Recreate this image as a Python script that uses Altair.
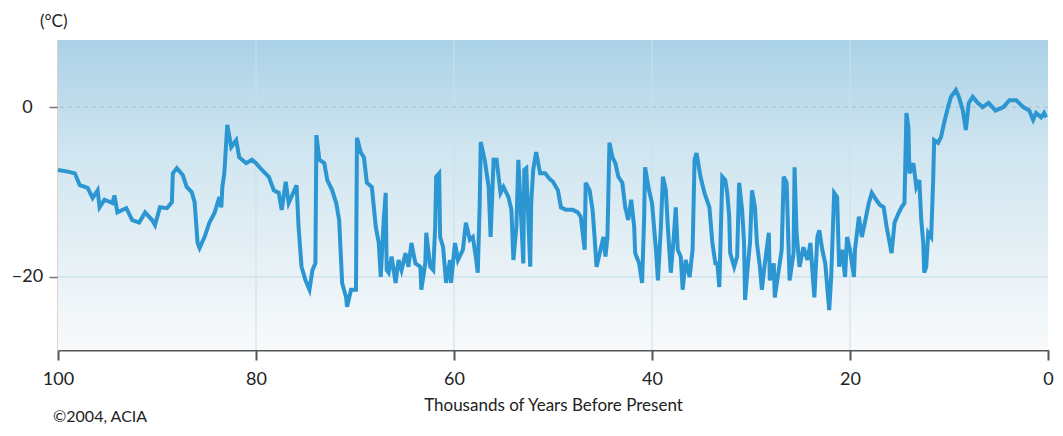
import altair as alt
import pandas as pd

kyr = [100.0, 99.0, 98.3, 97.8, 97.0, 96.5, 96.0, 95.8, 95.3, 94.5, 94.3, 94.0, 93.1, 92.5, 91.8, 91.2,
       90.5, 90.2, 89.7, 89.0, 88.5, 88.4, 88.0, 87.4, 87.0, 86.5, 86.2, 85.9, 85.7, 85.2, 84.7, 84.2,
       83.7, 83.5, 83.4, 83.2, 82.9, 82.5, 82.0, 81.7, 81.0, 80.4, 80.0, 79.4, 78.7, 78.2, 77.7, 77.4,
       77.0, 76.7, 75.9, 75.7, 75.4, 75.0, 74.6, 74.3, 74.0, 73.9, 73.6, 73.1, 72.8, 72.3, 71.9, 71.6,
       71.3, 70.9, 70.8, 70.4, 69.9, 69.8, 69.4, 69.1, 68.8, 68.3, 67.9, 67.6, 67.4, 67.1, 66.9, 66.8,
       66.6, 66.3, 65.9, 65.6, 65.3, 64.9, 64.6, 64.3, 63.9, 63.4, 63.3, 62.9, 62.8, 62.4, 62.1, 61.9,
       61.8, 61.5, 61.4, 61.1, 60.8, 60.4, 60.3, 59.9, 59.6, 59.1, 58.8, 58.4, 58.1, 57.8, 57.6, 57.4,
       57.3, 56.9, 56.5, 56.3, 56.0, 55.7, 55.3, 55.0, 54.5, 54.2, 54.0, 53.7, 53.5, 53.3, 53.0, 52.9,
       52.7, 52.3, 52.2, 52.0, 51.7, 51.3, 50.8, 50.3, 50.0, 49.5, 49.2, 48.7, 48.0, 47.5, 47.2, 46.8,
       46.7, 46.3, 46.0, 45.8, 45.6, 45.2, 44.9, 44.7, 44.5, 44.3, 44.0, 43.7, 43.4, 43.0, 42.7, 42.4,
       42.1, 41.8, 41.7, 41.3, 41.0, 40.8, 40.7, 40.3, 40.0, 39.6, 39.4, 39.1, 38.9, 38.6, 38.4, 38.1,
       37.8, 37.6, 37.4, 37.1, 36.9, 36.6, 36.2, 35.9, 35.7, 35.5, 35.1, 34.7, 34.2, 33.9, 33.6, 33.4,
       33.2, 32.9, 32.6, 32.4, 32.2, 32.1, 31.7, 31.4, 31.2, 30.9, 30.7, 30.6, 30.3, 30.1, 29.9, 29.6,
       29.4, 29.1, 28.9, 28.6, 28.2, 28.1, 27.7, 27.6, 27.2, 26.9, 26.7, 26.4, 26.2, 26.1, 25.7, 25.6,
       25.4, 25.1, 24.7, 24.3, 24.0, 23.6, 23.3, 23.1, 22.8, 22.5, 22.1, 21.9, 21.6, 21.3, 21.1, 20.8,
       20.5, 20.3, 20.0, 19.6, 19.5, 19.1, 18.8, 18.5, 18.1, 17.8, 17.3, 17.0, 16.6, 16.3, 15.8, 15.5,
       15.1, 14.8, 14.5, 14.3, 14.1, 14.0, 13.6, 13.3, 13.0, 12.8, 12.6, 12.5, 12.3, 12.1, 11.8, 11.6,
       11.5, 11.1, 10.8, 10.5, 10.1, 9.8, 9.3, 9.0, 8.6, 8.3, 8.0, 7.6, 7.1, 6.6, 6.0, 5.3,
       4.5, 3.9, 3.2, 2.5, 1.9, 1.5, 1.2, 0.7, 0.4, 0.2]

temp = [-7.4, -7.6, -7.8, -9.2, -9.5, -10.7, -9.8, -11.8, -10.9, -11.3, -10.4, -12.4, -11.9, -13.3, -13.6, -12.4,
        -13.3, -13.9, -11.8, -11.9, -11.2, -7.8, -7.2, -8.0, -9.4, -10.0, -11.2, -16.0, -16.6, -15.3, -13.6, -12.5,
        -10.6, -11.8, -9.4, -7.8, -2.1, -4.7, -3.9, -5.9, -6.6, -6.2, -6.6, -7.4, -8.2, -9.8, -10.1, -12.1,
        -8.8, -11.3, -9.2, -14.1, -18.8, -20.4, -21.5, -19.2, -18.4, -3.3, -6.2, -6.6, -8.6, -9.8, -11.3, -13.3,
        -20.7, -22.4, -23.5, -21.5, -21.5, -3.6, -5.4, -5.9, -8.9, -9.4, -14.1, -16.0, -20.0, -13.3, -10.1, -19.2,
        -19.5, -17.6, -20.7, -18.0, -19.2, -17.2, -18.8, -16.0, -18.4, -18.8, -21.5, -18.4, -14.8, -18.8, -19.2, -14.1,
        -8.2, -7.8, -15.3, -16.5, -20.7, -18.0, -20.7, -16.0, -18.0, -16.8, -13.6, -15.6, -15.3, -17.6, -19.5, -11.3,
        -4.1, -6.2, -9.4, -15.3, -6.2, -6.2, -10.1, -9.4, -10.6, -12.1, -18.0, -14.1, -6.2, -10.9, -18.4, -7.4,
        -7.2, -18.8, -11.3, -7.4, -5.3, -7.8, -7.8, -8.5, -8.8, -9.8, -11.8, -12.1, -12.1, -12.4, -12.9, -16.8,
        -8.9, -9.8, -12.1, -15.3, -18.8, -16.8, -15.3, -17.6, -15.3, -4.2, -5.9, -6.6, -8.2, -8.9, -11.8, -13.3,
        -10.9, -14.1, -17.2, -18.4, -20.7, -13.3, -7.1, -9.8, -11.3, -16.8, -20.4, -14.1, -8.2, -9.8, -14.1, -19.5,
        -15.3, -11.8, -16.8, -17.6, -21.5, -18.0, -20.0, -16.8, -6.2, -5.4, -8.2, -10.1, -11.8, -16.0, -18.4, -18.4,
        -21.2, -8.2, -8.6, -10.1, -12.9, -17.2, -18.8, -17.6, -8.9, -12.1, -16.0, -22.7, -18.4, -16.0, -9.8, -11.8,
        -16.0, -18.8, -21.5, -18.4, -14.8, -20.4, -18.4, -22.4, -19.2, -16.8, -8.2, -8.9, -16.8, -20.4, -17.2, -7.1,
        -14.8, -18.8, -16.5, -18.0, -16.0, -22.4, -15.3, -14.5, -16.8, -18.4, -23.9, -20.0, -10.1, -10.6, -18.8, -16.8,
        -20.0, -15.3, -16.8, -20.0, -16.8, -12.9, -15.3, -13.6, -11.3, -10.1, -11.0, -11.5, -11.8, -14.1, -17.2, -13.6,
        -12.5, -11.8, -11.3, -0.7, -2.4, -7.8, -6.6, -9.4, -8.6, -13.3, -16.0, -19.5, -18.8, -14.8, -15.3, -8.6,
        -3.9, -4.2, -3.5, -1.9, 0.0, 1.2, 2.0, 1.2, -0.4, -2.7, 0.5, 1.2, 0.5, 0.0, 0.5, -0.4,
        0.0, 0.8, 0.8, 0.0, -0.4, -1.5, -0.7, -1.2, -0.7, -1.2]

x_ticks = [100, 80, 60, 40, 20, 0]
x_grid = [80, 60, 40, 20]
y_ticks = [0, -20]
x_domain = [100, 0]
y_domain = [-28.6, 7.9]

FONT = "Lato"
W, H = 990, 310

df = pd.DataFrame({"kyr": kyr, "temp": temp, "i": list(range(len(kyr)))})

xs = alt.Scale(domain=x_domain, nice=False, zero=False)
ys = alt.Scale(domain=y_domain, nice=False, zero=False)

x_axis = alt.Axis(
    values=x_ticks, title="Thousands of Years Before Present", grid=False,
    domainColor="#555555", domainWidth=2, tickColor="#555555", tickWidth=2, tickSize=10,
    labelFontSize=18, labelColor="#222222", labelFont=FONT, labelPadding=10,
    titleFont=FONT, titleFontSize=17, titleFontWeight="normal", titleColor="#222222", titlePadding=9,
    labelFlush=False, labelOverlap=False,
)
y_axis = alt.Axis(
    values=y_ticks, title=None, grid=False,
    domainColor="#c79b9b", domainWidth=2, tickColor="#777777", tickWidth=1.5, tickSize=9,
    labelFontSize=18, labelColor="#222222", labelFont=FONT, labelPadding=22, labelAlign="center",
)

bg_df = pd.DataFrame({"x": [x_domain[0]], "x2": [x_domain[1]], "y": [y_domain[1]], "y2": [y_domain[0]]})
bg = alt.Chart(bg_df).mark_rect(
    color=alt.Gradient(
        gradient="linear",
        stops=[
            alt.GradientStop(color="#aad1e7", offset=0),
            alt.GradientStop(color="#cfe5f0", offset=0.35),
            alt.GradientStop(color="#e6f0f5", offset=0.7),
            alt.GradientStop(color="#f8fafb", offset=1),
        ],
        x1=0, x2=0, y1=0, y2=1,
    )
).encode(
    x=alt.X("x:Q", scale=xs, axis=x_axis),
    x2="x2:Q",
    y=alt.Y("y:Q", scale=ys, axis=y_axis),
    y2="y2:Q",
)

xg = alt.Chart(pd.DataFrame({"x": x_grid})).mark_rule(color="#c7e1ee", strokeWidth=1).encode(
    x=alt.X("x:Q", scale=xs, axis=x_axis)
)
yg_zero = alt.Chart(pd.DataFrame({"y": [0]})).mark_rule(color="#a9bccb", strokeWidth=1, strokeDash=[4, 4]).encode(
    y=alt.Y("y:Q", scale=ys, axis=y_axis)
)
yg_m20 = alt.Chart(pd.DataFrame({"y": [-20]})).mark_rule(color="#bddbea", strokeWidth=1).encode(
    y=alt.Y("y:Q", scale=ys, axis=y_axis)
)

line = alt.Chart(df).mark_line(color="#2b96d1", strokeWidth=4, strokeJoin="miter").encode(
    x=alt.X("kyr:Q", scale=xs, axis=x_axis),
    y=alt.Y("temp:Q", scale=ys, axis=y_axis),
    order=alt.Order("i:Q"),
)

unit = alt.Chart(pd.DataFrame({"t": ["(°C)"]})).mark_text(
    font=FONT, fontSize=17, color="#222222", align="left", baseline="middle"
).encode(text="t:N", x=alt.value(-18), y=alt.value(-18))

credit = alt.Chart(pd.DataFrame({"t": ["©2004, ACIA"]})).mark_text(
    font=FONT, fontSize=16, color="#222222", align="left", baseline="middle"
).encode(text="t:N", x=alt.value(-5), y=alt.value(377))

chart = alt.layer(bg, xg, yg_m20, yg_zero, line, unit, credit).properties(
    width=W, height=H,
    autosize=alt.AutoSizeParams(type="none"),
    padding={"left": 50, "top": 32, "right": 7, "bottom": 76},
    background="white",
).configure_view(stroke="transparent")

chart.save("out.html", embed_options={"renderer": "svg", "actions": False})
